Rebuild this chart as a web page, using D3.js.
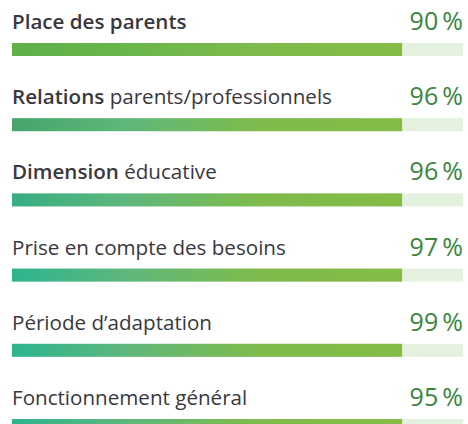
<!DOCTYPE html>
<html>
<head>
<meta charset="utf-8">
<script src="https://cdn.jsdelivr.net/npm/d3@7"></script>
<style>
  body { margin: 0; background: #fff; }
  svg { display: block; }
</style>
</head>
<body>
<div id="chart"></div>
<script>
// Survey results: one row per theme
const labelBold = ["Place des parents", "Relations", "Dimension", "", "", ""];
const labelRest = ["", " parents/professionnels", " éducative", "Prise en compte des besoins", "Période d\u2019adaptation", "Fonctionnement général"];
const percents = [90, 96, 96, 97, 99, 95];
// filled share of each track, as drawn in the picture
const fillShare = [0.865, 0.865, 0.865, 0.865, 0.865, 0.865];

const width = 468;
const height = 424;

const startColors = ["#5fb049", "#45a56b", "#36ae82", "#2db48e", "#2db48e", "#2db48e"];

const svg = d3.select("#chart").append("svg").attr("width", width).attr("height", height);

const rows = d3.range(percents.length);

const x = d3.scaleLinear().domain([0, 1]).range([12, 463]);
const y = d3.scalePoint().domain(rows).range([43, 419]);
const barH = 13;

const defs = svg.append("defs");
rows.forEach((i) => {
  const g = defs.append("linearGradient").attr("id", "grad" + i).attr("x1", "0%").attr("x2", "100%");
  g.append("stop").attr("offset", "0%").attr("stop-color", startColors[i]);
  g.append("stop").attr("offset", "30%").attr("stop-color", i === 0 ? "#6ab64a" : "#5fb77c");
  g.append("stop").attr("offset", "62%").attr("stop-color", "#7dbb4c");
  g.append("stop").attr("offset", "100%").attr("stop-color", "#84bc46");
});

const row = svg.selectAll(".row").data(rows).enter().append("g").attr("class", "row");

// light track
row
  .append("rect")
  .attr("x", x(0))
  .attr("y", (d) => y(d))
  .attr("width", x(1) - x(0))
  .attr("height", barH)
  .attr("fill", "#e4f1df");

// filled part
row
  .append("rect")
  .attr("x", x(0))
  .attr("y", (d) => y(d))
  .attr("width", (d) => x(fillShare[d]) - x(0))
  .attr("height", barH)
  .attr("fill", (d) => `url(#grad${d})`);

const label = row
  .append("text")
  .attr("x", x(0))
  .attr("y", (d) => y(d) - 14)
  .attr("font-family", "'Open Sans', sans-serif")
  .attr("font-size", 20.6)
  .attr("fill", "#38383e");

label.append("tspan").attr("font-weight", 600).text((d) => labelBold[d]);
label.append("tspan").text((d) => labelRest[d]);

row
  .append("text")
  .attr("x", x(1))
  .attr("y", (d) => y(d) - 13)
  .attr("text-anchor", "end")
  .attr("font-family", "'Open Sans', sans-serif")
  .attr("font-size", 25)
  .attr("font-weight", 500)
  .attr("fill", "#3a8640")
  .text((d) => percents[d] + "\u2009%");
</script>
</body>
</html>
